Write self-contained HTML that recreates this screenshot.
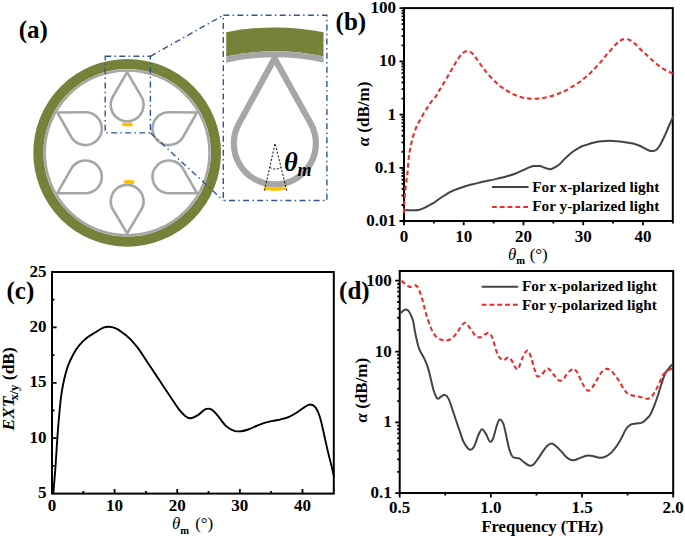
<!DOCTYPE html>
<html><head><meta charset="utf-8"><style>
html,body{margin:0;padding:0;background:#fff;width:685px;height:538px;overflow:hidden}
svg{display:block}
</style></head><body>
<svg width="685" height="538" viewBox="0 0 685 538">
<rect width="685" height="538" fill="#fff"/>
<circle cx="127.15" cy="152.8" r="88.8" fill="none" stroke="#76823a" stroke-width="10.1"/>
<circle cx="127.15" cy="152.8" r="82.4" fill="none" stroke="#a6a6a6" stroke-width="2.5"/>
<path d="M127.15,72.2 L141.34,96.67 A16.4,16.4 0 1 1 112.96,96.67 Z" fill="none" stroke="#a6a6a6" stroke-width="2.6" stroke-linejoin="miter" stroke-miterlimit="10"/>
<path d="M196.95,112.5 L183.15,136.8 A16.4,16.4 0 1 1 169.01,112.3 Z" fill="none" stroke="#a6a6a6" stroke-width="2.6" stroke-linejoin="miter" stroke-miterlimit="10"/>
<path d="M196.95,193.1 L169.01,193.3 A16.4,16.4 0 1 1 183.15,168.8 Z" fill="none" stroke="#a6a6a6" stroke-width="2.6" stroke-linejoin="miter" stroke-miterlimit="10"/>
<path d="M127.15,233.4 L113.05,209.68 A16.4,16.4 0 1 1 141.25,209.68 Z" fill="none" stroke="#a6a6a6" stroke-width="2.6" stroke-linejoin="miter" stroke-miterlimit="10"/>
<path d="M57.35,193.1 L71.15,168.8 A16.4,16.4 0 1 1 85.29,193.3 Z" fill="none" stroke="#a6a6a6" stroke-width="2.6" stroke-linejoin="miter" stroke-miterlimit="10"/>
<path d="M57.35,112.5 L85.29,112.3 A16.4,16.4 0 1 1 71.15,136.8 Z" fill="none" stroke="#a6a6a6" stroke-width="2.6" stroke-linejoin="miter" stroke-miterlimit="10"/>
<path d="M122.2,123.9 Q127.3,125.6 132.4,123.9" fill="none" stroke="#ffc000" stroke-width="3.4"/>
<path d="M124.1,182.6 Q129.1,180.9 134.2,182.6" fill="none" stroke="#ffc000" stroke-width="3.7"/>
<path d="M226.2,20 L323.5,20 L323.5,60 L226.2,60 Z" fill="none"/>
<clipPath id="bandclip"><rect x="226.2" y="0" width="97.3" height="120"/></clipPath>
<g clip-path="url(#bandclip)">
<circle cx="274.85" cy="280" r="240.7" fill="none" stroke="#76823a" stroke-width="23.8"/>
<circle cx="274.85" cy="280" r="225.75" fill="none" stroke="#a6a6a6" stroke-width="6.1"/>
</g>
<path d="M274.6,58.5 L310.72,123.45 A41.05,41.05 0 1 1 238.86,123.66 Z" fill="none" stroke="#a6a6a6" stroke-width="6.2" stroke-linejoin="miter" stroke-miterlimit="10"/>
<path d="M263.84,187.91 A45.85,45.85 0 0 0 285.86,187.91" fill="none" stroke="#ffc000" stroke-width="3.5"/>
<path d="M264.5,190.7 L275.1,143.4 L286.8,190.7" fill="none" stroke="#000" stroke-width="0.9" stroke-dasharray="2.2 1.6"/>
<path d="M269.6,167.2 Q275.1,171 281.4,167.2" fill="none" stroke="#000" stroke-width="0.9" stroke-dasharray="2.2 1.6"/>
<text x="284" y="170.6" font-family='"Liberation Serif", serif' font-size="26.5" font-weight="bold" font-style="italic">&#952;</text>
<text x="297.6" y="175.6" font-family='"Liberation Serif", serif' font-size="18" font-weight="bold" font-style="italic">m</text>
<rect x="105.2" y="56.3" width="45.2" height="76.6" stroke="#2f5597" stroke-width="1.4" fill="none" stroke-dasharray="6 3.3 1.5 3.3"/>
<rect x="223.3" y="15.3" width="103.6" height="185.2" stroke="#2f5597" stroke-width="1.4" fill="none" stroke-dasharray="6 3.3 1.5 3.3"/>
<path d="M150.4,56.3 L223.3,15.3" stroke="#2f5597" stroke-width="1.4" fill="none" stroke-dasharray="6 3.3 1.5 3.3"/>
<path d="M150.4,132.9 L223.3,200.5" stroke="#2f5597" stroke-width="1.4" fill="none" stroke-dasharray="6 3.3 1.5 3.3"/>
<text x="18.8" y="38.1" font-family='"Liberation Serif", serif' font-size="25" font-weight="bold">(a)</text>
<text x="335.6" y="29.9" font-family='"Liberation Serif", serif' font-size="25" font-weight="bold">(b)</text>
<text x="6.5" y="298.6" font-family='"Liberation Serif", serif' font-size="25" font-weight="bold">(c)</text>
<text x="339.1" y="298.8" font-family='"Liberation Serif", serif' font-size="25" font-weight="bold">(d)</text>
<rect x="404" y="8.1" width="268.8" height="212.9" fill="none" stroke="#000" stroke-width="2"/>
<clipPath id="clipb"><rect x="402.5" y="8.1" width="271.8" height="212.9"/></clipPath>
<g clip-path="url(#clipb)">
<path d="M404.7,210.3 C407,210.23 415.32,210.27 418.5,209.9 C421.68,209.53 421.95,208.9 423.8,208.1 C425.65,207.3 427.85,206.03 429.6,205.1 C431.35,204.17 432.65,203.57 434.3,202.5 C435.95,201.43 437.65,199.97 439.5,198.7 C441.35,197.43 443.65,196 445.4,194.9 C447.15,193.8 448.4,192.93 450,192.1 C451.6,191.27 453.08,190.67 455,189.9 C456.92,189.13 459.25,188.27 461.5,187.5 C463.75,186.73 466.17,185.95 468.5,185.3 C470.83,184.65 473.17,184.18 475.5,183.6 C477.83,183.02 480.28,182.3 482.5,181.8 C484.72,181.3 486.3,181.13 488.8,180.6 C491.3,180.07 494.58,179.28 497.5,178.6 C500.42,177.92 503.38,177.32 506.3,176.5 C509.22,175.68 512.08,174.8 515,173.7 C517.92,172.6 521.47,170.95 523.8,169.9 C526.13,168.85 527.38,168.03 529,167.4 C530.62,166.77 531.73,166.32 533.5,166.1 C535.27,165.88 537.7,165.82 539.6,166.1 C541.5,166.38 543.15,167.28 544.9,167.8 C546.65,168.32 548.35,169.33 550.1,169.2 C551.85,169.07 553.78,167.88 555.4,167 C557.02,166.12 558.2,165.3 559.8,163.9 C561.4,162.5 563.1,160.42 565,158.6 C566.9,156.78 569.3,154.53 571.2,153 C573.1,151.47 574.52,150.57 576.4,149.4 C578.28,148.23 580.9,146.73 582.5,146 C584.1,145.27 584.42,145.5 586,145 C587.58,144.5 589.83,143.57 592,143 C594.17,142.43 596.67,141.95 599,141.6 C601.33,141.25 603.67,141.02 606,140.9 C608.33,140.78 610.67,140.8 613,140.9 C615.33,141 617.67,141.23 620,141.5 C622.33,141.77 624.67,142.12 627,142.5 C629.33,142.88 631.8,143.22 634,143.8 C636.2,144.38 638.37,145.22 640.2,146 C642.03,146.78 643.25,147.67 645,148.5 C646.75,149.33 648.88,150.73 650.7,151 C652.52,151.27 654.38,151.02 655.9,150.1 C657.42,149.18 658.28,148 659.8,145.5 C661.32,143 663.48,138.35 665,135.1 C666.52,131.85 667.7,128.7 668.9,126 C670.1,123.3 671.35,120.73 672.2,118.9 C673.05,117.07 673.7,115.65 674,115" fill="none" stroke="#434343" stroke-width="2"/>
<path d="M403.8,213 C403.83,212.13 403.87,210.27 404,207.8 C404.13,205.33 404.35,201.4 404.6,198.2 C404.85,195 405.15,191.82 405.5,188.6 C405.85,185.38 406.35,181.72 406.7,178.9 C407.05,176.08 407.25,175.32 407.6,171.7 C407.95,168.08 408.35,161.12 408.8,157.2 C409.25,153.28 409.75,151.02 410.3,148.2 C410.85,145.38 411.5,142.72 412.1,140.3 C412.7,137.88 413.1,136.12 413.9,133.7 C414.7,131.28 415.8,128.22 416.9,125.8 C418,123.38 419.28,121.42 420.5,119.2 C421.72,116.98 422.98,114.52 424.2,112.5 C425.42,110.48 426.7,108.8 427.8,107.1 C428.9,105.4 429.55,103.95 430.8,102.3 C432.05,100.65 434.05,98.93 435.3,97.2 C436.55,95.47 437.15,93.82 438.3,91.9 C439.45,89.98 440.88,87.85 442.2,85.7 C443.52,83.55 444.88,81.23 446.2,79 C447.52,76.77 448.8,74.53 450.1,72.3 C451.4,70.07 452.7,67.82 454,65.6 C455.3,63.38 456.52,61.03 457.9,59 C459.28,56.97 460.92,54.7 462.3,53.4 C463.68,52.1 464.98,51.52 466.2,51.2 C467.42,50.88 468.38,50.95 469.6,51.5 C470.82,52.05 472.38,53.35 473.5,54.5 C474.62,55.65 475.18,56.82 476.3,58.4 C477.42,59.98 478.9,62.2 480.2,64 C481.5,65.8 482.72,67.43 484.1,69.2 C485.48,70.97 486.63,72.52 488.5,74.6 C490.37,76.68 493.2,79.65 495.3,81.7 C497.4,83.75 499.07,85.35 501.1,86.9 C503.13,88.45 505.27,89.68 507.5,91 C509.73,92.32 512.07,93.73 514.5,94.8 C516.93,95.87 519.57,96.77 522.1,97.4 C524.63,98.03 527.17,98.4 529.7,98.6 C532.23,98.8 534.87,98.73 537.3,98.6 C539.73,98.47 541.87,98.25 544.3,97.8 C546.73,97.35 549.47,96.63 551.9,95.9 C554.33,95.17 556.63,94.27 558.9,93.4 C561.17,92.53 563.28,91.82 565.5,90.7 C567.72,89.58 569.97,88.07 572.2,86.7 C574.43,85.33 576.78,84 578.9,82.5 C581.02,81 582.98,79.3 584.9,77.7 C586.82,76.1 588.58,74.62 590.4,72.9 C592.22,71.18 594,69.32 595.8,67.4 C597.6,65.48 599.5,63.4 601.2,61.4 C602.9,59.4 604.38,57.32 606,55.4 C607.62,53.48 609.28,51.72 610.9,49.9 C612.52,48.08 614.27,45.95 615.7,44.5 C617.13,43.05 618.37,42.02 619.5,41.2 C620.63,40.38 621.52,39.95 622.5,39.6 C623.48,39.25 624.13,39 625.4,39.1 C626.67,39.2 628.38,39.32 630.1,40.2 C631.82,41.08 633.85,42.77 635.7,44.4 C637.55,46.03 639.35,48.22 641.2,50 C643.05,51.78 644.85,53.32 646.8,55.1 C648.75,56.88 650.88,58.92 652.9,60.7 C654.92,62.48 656.82,64.25 658.9,65.8 C660.98,67.35 663.32,68.82 665.4,70 C667.48,71.18 669.97,72.23 671.4,72.9 C672.83,73.57 673.57,73.82 674,74" fill="none" stroke="#ee2b2b" stroke-width="2.1" stroke-dasharray="4.6 3"/>
</g>
<path d="M404,221 v4.3 M433.87,221 v2.5 M463.73,221 v4.3 M493.6,221 v2.5 M523.47,221 v4.3 M553.33,221 v2.5 M583.2,221 v4.3 M613.07,221 v2.5 M642.93,221 v4.3 M672.8,221 v2.5 M404,221 h-4.5 M404,204.98 h-2.5 M404,195.61 h-2.5 M404,188.96 h-2.5 M404,183.8 h-2.5 M404,179.58 h-2.5 M404,176.02 h-2.5 M404,172.93 h-2.5 M404,170.21 h-2.5 M404,167.78 h-4.5 M404,151.75 h-2.5 M404,142.38 h-2.5 M404,135.73 h-2.5 M404,130.57 h-2.5 M404,126.36 h-2.5 M404,122.79 h-2.5 M404,119.71 h-2.5 M404,116.99 h-2.5 M404,114.55 h-4.5 M404,98.53 h-2.5 M404,89.16 h-2.5 M404,82.51 h-2.5 M404,77.35 h-2.5 M404,73.13 h-2.5 M404,69.57 h-2.5 M404,66.48 h-2.5 M404,63.76 h-2.5 M404,61.32 h-4.5 M404,45.3 h-2.5 M404,35.93 h-2.5 M404,29.28 h-2.5 M404,24.12 h-2.5 M404,19.91 h-2.5 M404,16.34 h-2.5 M404,13.26 h-2.5 M404,10.54 h-2.5 M404,8.1 h-4.5" stroke="#000" stroke-width="1.8" fill="none"/>
<text x="404" y="242" font-family='"Liberation Serif", serif' font-size="17" font-weight="bold" font-style="normal" text-anchor="middle" >0</text>
<text x="463.73" y="242" font-family='"Liberation Serif", serif' font-size="17" font-weight="bold" font-style="normal" text-anchor="middle" >10</text>
<text x="523.47" y="242" font-family='"Liberation Serif", serif' font-size="17" font-weight="bold" font-style="normal" text-anchor="middle" >20</text>
<text x="583.2" y="242" font-family='"Liberation Serif", serif' font-size="17" font-weight="bold" font-style="normal" text-anchor="middle" >30</text>
<text x="642.93" y="242" font-family='"Liberation Serif", serif' font-size="17" font-weight="bold" font-style="normal" text-anchor="middle" >40</text>
<text x="396" y="226" font-family='"Liberation Serif", serif' font-size="17" font-weight="bold" font-style="normal" text-anchor="end" >0.01</text>
<text x="396" y="172.78" font-family='"Liberation Serif", serif' font-size="17" font-weight="bold" font-style="normal" text-anchor="end" >0.1</text>
<text x="396" y="119.55" font-family='"Liberation Serif", serif' font-size="17" font-weight="bold" font-style="normal" text-anchor="end" >1</text>
<text x="396" y="66.32" font-family='"Liberation Serif", serif' font-size="17" font-weight="bold" font-style="normal" text-anchor="end" >10</text>
<text x="396" y="13.1" font-family='"Liberation Serif", serif' font-size="17" font-weight="bold" font-style="normal" text-anchor="end" >100</text>
<text x="364.9" y="114" font-family='"Liberation Serif", serif' font-size="17" font-weight="bold" font-style="normal" text-anchor="middle" transform="rotate(-90 364.9 114.0)" dy="4.5"><tspan font-style="italic">&#945;</tspan> (dB/m)</text>
<text x="508" y="259.6" font-family='"Liberation Serif", serif' font-size="17"><tspan font-style="italic">&#952;</tspan><tspan font-size="10.5" font-weight="bold" dy="4.5">m</tspan><tspan dy="-4.5" dx="0.3"> (&#176;)</tspan></text>
<path d="M492,187.1 H528.5" stroke="#434343" stroke-width="2"/>
<path d="M492,207 H528.5" stroke="#ee2b2b" stroke-width="2.1" stroke-dasharray="4.8 3"/>
<text x="532.2" y="192" font-family='"Liberation Serif", serif' font-size="15.3" font-weight="bold" font-style="normal" text-anchor="start" >For x-plarized light</text>
<text x="532.2" y="210.5" font-family='"Liberation Serif", serif' font-size="15.3" font-weight="bold" font-style="normal" text-anchor="start" >For y-plarized light</text>
<rect x="52" y="272" width="281.8" height="221.6" fill="none" stroke="#000" stroke-width="2"/>
<clipPath id="clipc"><rect x="50.5" y="272" width="284.8" height="221.6"/></clipPath>
<g clip-path="url(#clipc)"><path d="M53.3,493.6 C53.68,488.85 54.92,474.5 55.6,465.1 C56.28,455.7 56.72,446.47 57.4,437.2 C58.08,427.93 59.02,416.75 59.7,409.5 C60.38,402.25 60.73,398.82 61.5,393.7 C62.27,388.58 63.22,383.45 64.3,378.8 C65.38,374.15 66.45,369.98 68,365.8 C69.55,361.62 71.73,357.12 73.6,353.7 C75.47,350.28 77.03,347.93 79.2,345.3 C81.37,342.67 83.82,340.12 86.6,337.9 C89.38,335.68 93.1,333.7 95.9,332 C98.7,330.3 101.22,328.58 103.4,327.7 C105.58,326.82 106.83,326.55 109,326.7 C111.17,326.85 113.62,327.2 116.4,328.6 C119.18,330 123.43,333.38 125.7,335.1 C127.97,336.82 127.92,336.68 130,338.9 C132.08,341.12 135.47,344.77 138.2,348.4 C140.93,352.03 143.68,356.62 146.4,360.7 C149.12,364.78 151.78,368.82 154.5,372.9 C157.22,376.98 159.97,381.1 162.7,385.2 C165.43,389.3 168.17,393.42 170.9,397.5 C173.63,401.58 176.72,406.63 179.1,409.7 C181.48,412.77 183.33,414.47 185.2,415.9 C187.07,417.33 188.25,418.38 190.3,418.3 C192.35,418.22 194.95,416.93 197.5,415.4 C200.05,413.87 203.22,410.05 205.6,409.1 C207.98,408.15 209.75,408.57 211.8,409.7 C213.85,410.83 215.52,413.17 217.9,415.9 C220.28,418.63 223.37,423.62 226.1,426.1 C228.83,428.58 231.75,429.95 234.3,430.8 C236.85,431.65 239.08,431.42 241.4,431.2 C243.72,430.98 245.7,430.37 248.2,429.5 C250.7,428.63 253.68,427.1 256.4,426 C259.12,424.9 261.78,423.75 264.5,422.9 C267.22,422.05 269.97,421.5 272.7,420.9 C275.43,420.3 278.17,419.98 280.9,419.3 C283.63,418.62 286.37,417.97 289.1,416.8 C291.83,415.63 294.58,414 297.3,412.3 C300.02,410.6 303.18,407.9 305.4,406.6 C307.62,405.3 308.88,404.33 310.6,404.5 C312.32,404.67 314.17,405.55 315.7,407.6 C317.23,409.65 318.45,412.53 319.8,416.8 C321.15,421.07 322.45,427.4 323.8,433.2 C325.15,439 326.53,445.82 327.9,451.6 C329.27,457.38 331.02,463.83 332,467.9 C332.98,471.97 333.5,474.65 333.8,476" fill="none" stroke="#000" stroke-width="1.9"/></g>
<path d="M83.31,493.6 v-2.5 M114.62,493.6 v-4.6 M145.93,493.6 v-2.5 M177.24,493.6 v-4.6 M208.56,493.6 v-2.5 M239.87,493.6 v-4.6 M271.18,493.6 v-2.5 M302.49,493.6 v-4.6 M52,465.9 h2.5 M52,438.2 h4.6 M52,410.5 h2.5 M52,382.8 h4.6 M52,355.1 h2.5 M52,327.4 h4.6 M52,299.7 h2.5" stroke="#000" stroke-width="1.8" fill="none"/>
<text x="52" y="511.3" font-family='"Liberation Serif", serif' font-size="17" font-weight="bold" font-style="normal" text-anchor="middle" >0</text>
<text x="114.62" y="511.3" font-family='"Liberation Serif", serif' font-size="17" font-weight="bold" font-style="normal" text-anchor="middle" >10</text>
<text x="177.24" y="511.3" font-family='"Liberation Serif", serif' font-size="17" font-weight="bold" font-style="normal" text-anchor="middle" >20</text>
<text x="239.87" y="511.3" font-family='"Liberation Serif", serif' font-size="17" font-weight="bold" font-style="normal" text-anchor="middle" >30</text>
<text x="302.49" y="511.3" font-family='"Liberation Serif", serif' font-size="17" font-weight="bold" font-style="normal" text-anchor="middle" >40</text>
<text x="46.5" y="498.2" font-family='"Liberation Serif", serif' font-size="17" font-weight="bold" font-style="normal" text-anchor="end" >5</text>
<text x="46.5" y="442.8" font-family='"Liberation Serif", serif' font-size="17" font-weight="bold" font-style="normal" text-anchor="end" >10</text>
<text x="46.5" y="387.4" font-family='"Liberation Serif", serif' font-size="17" font-weight="bold" font-style="normal" text-anchor="end" >15</text>
<text x="46.5" y="332" font-family='"Liberation Serif", serif' font-size="17" font-weight="bold" font-style="normal" text-anchor="end" >20</text>
<text x="46.5" y="276.6" font-family='"Liberation Serif", serif' font-size="17" font-weight="bold" font-style="normal" text-anchor="end" >25</text>
<text transform="rotate(-90 14 430.6)" x="14" y="430.6" font-family='"Liberation Serif", serif' font-size="17.5" font-weight="bold" font-style="italic">EXT</text>
<text transform="rotate(-90 17.6 400.6)" x="17.6" y="400.6" font-family='"Liberation Serif", serif' font-size="12.5" font-weight="bold" font-style="normal">x/y</text>
<text transform="rotate(-90 14 380.2)" x="14" y="380.2" font-family='"Liberation Serif", serif' font-size="17.5" font-weight="bold" font-style="normal">(dB)</text>
<text x="172" y="529.4" font-family='"Liberation Serif", serif' font-size="17"><tspan font-style="italic">&#952;</tspan><tspan font-size="10.5" font-weight="bold" dy="4.5">m</tspan><tspan dy="-4.5" dx="1.8"> (&#176;)</tspan></text>
<rect x="399.7" y="271" width="273.5" height="222" fill="none" stroke="#000" stroke-width="2"/>
<clipPath id="clipd"><rect x="398.2" y="271" width="276.5" height="222"/></clipPath>
<g clip-path="url(#clipd)">
<path d="M400.2,313.4 C400.73,312.93 402.4,311.25 403.4,310.6 C404.4,309.95 405.27,309.35 406.2,309.5 C407.13,309.65 408.15,310.38 409,311.5 C409.85,312.62 410.6,314.57 411.3,316.2 C412,317.83 412.63,318.95 413.2,321.3 C413.77,323.65 414.03,326.85 414.7,330.3 C415.37,333.75 416.37,338.68 417.2,342 C418.03,345.32 418.52,347.43 419.7,350.2 C420.88,352.97 422.92,355.65 424.3,358.6 C425.68,361.55 426.92,364.48 428,367.9 C429.08,371.32 429.87,375.38 430.8,379.1 C431.73,382.82 432.52,386.95 433.6,390.2 C434.68,393.45 436.07,397.52 437.3,398.6 C438.53,399.68 439.75,397.32 441,396.7 C442.25,396.08 443.55,394.58 444.8,394.9 C446.05,395.22 447.27,396.28 448.5,398.6 C449.73,400.92 450.97,405.23 452.2,408.8 C453.43,412.37 454.67,416.35 455.9,420 C457.13,423.65 458.28,426.98 459.6,430.7 C460.92,434.42 462.13,439.15 463.8,442.3 C465.47,445.45 467.9,448.87 469.6,449.6 C471.3,450.33 472.53,449.13 474,446.7 C475.47,444.27 477.07,437.92 478.4,435 C479.73,432.08 480.78,429.43 482,429.2 C483.22,428.97 484.37,431.53 485.7,433.6 C487.03,435.67 488.78,440.75 490,441.6 C491.22,442.45 491.9,441.25 493,438.7 C494.1,436.15 495.52,429.47 496.6,426.3 C497.68,423.13 498.4,420.18 499.5,419.7 C500.6,419.22 502.1,420.85 503.2,423.4 C504.3,425.95 505.13,430.87 506.1,435 C507.07,439.13 507.9,444.55 509,448.2 C510.1,451.85 511,455.2 512.7,456.9 C514.4,458.6 517.38,457.55 519.2,458.4 C521.02,459.25 521.88,460.78 523.6,462 C525.32,463.22 527.8,465.33 529.5,465.7 C531.2,466.07 532.35,465.42 533.8,464.2 C535.25,462.98 536.73,460.47 538.2,458.4 C539.67,456.33 541.13,453.87 542.6,451.8 C544.07,449.73 545.53,447.38 547,446 C548.47,444.62 549.93,443.5 551.4,443.5 C552.87,443.5 554.08,444.62 555.8,446 C557.52,447.38 559.75,449.78 561.7,451.8 C563.65,453.82 565.55,456.68 567.5,458.1 C569.45,459.52 571.45,460.25 573.4,460.3 C575.35,460.35 577.02,459.15 579.2,458.4 C581.38,457.65 584.32,456.22 586.5,455.8 C588.68,455.38 590.12,455.58 592.3,455.9 C594.48,456.22 597.4,457.58 599.6,457.7 C601.8,457.82 603.55,457.45 605.5,456.6 C607.45,455.75 609.35,454.48 611.3,452.6 C613.25,450.72 615.5,447.73 617.2,445.3 C618.9,442.87 620.05,440.68 621.5,438 C622.95,435.32 624.43,431.4 625.9,429.2 C627.37,427 628.6,425.73 630.3,424.8 C632,423.87 634.15,423.97 636.1,423.6 C638.05,423.23 640.28,423.37 642,422.6 C643.72,421.83 645.03,420.32 646.4,419 C647.77,417.68 648.93,416.82 650.2,414.7 C651.47,412.58 652.75,409.42 654,406.3 C655.25,403.18 656.47,399.72 657.7,396 C658.93,392.28 660.17,387.72 661.4,384 C662.63,380.28 663.7,376.5 665.1,373.7 C666.5,370.9 668.55,368.75 669.8,367.2 C671.05,365.65 672.13,364.87 672.6,364.4" fill="none" stroke="#434343" stroke-width="2"/>
<path d="M401.6,280.8 C402.13,281.27 403.48,282.58 404.8,283.6 C406.12,284.62 408.18,286.5 409.5,286.9 C410.82,287.3 411.62,286.23 412.7,286 C413.78,285.77 415.07,285.12 416,285.5 C416.93,285.88 417.52,286.83 418.3,288.3 C419.08,289.77 419.92,292.05 420.7,294.3 C421.48,296.55 422.32,299.32 423,301.8 C423.68,304.28 424.1,306.57 424.8,309.2 C425.5,311.83 426.08,314.23 427.2,317.6 C428.32,320.97 429.95,326.18 431.5,329.4 C433.05,332.62 434.55,335.08 436.5,336.9 C438.45,338.72 440.97,339.87 443.2,340.3 C445.43,340.73 447.82,340.48 449.9,339.5 C451.98,338.52 453.88,336.5 455.7,334.4 C457.52,332.3 459.27,328.85 460.8,326.9 C462.33,324.95 463.37,322.52 464.9,322.7 C466.43,322.88 468.18,325.77 470,328 C471.82,330.23 473.98,334.57 475.8,336.1 C477.62,337.63 479.43,337.45 480.9,337.2 C482.37,336.95 483.25,335.28 484.6,334.6 C485.95,333.92 487.78,332.73 489,333.1 C490.22,333.47 491.05,335.08 491.9,336.8 C492.75,338.52 493.37,341.08 494.1,343.4 C494.83,345.72 495.45,348.4 496.3,350.7 C497.15,353 497.98,355.63 499.2,357.2 C500.42,358.77 502.02,360.1 503.6,360.1 C505.18,360.1 507.25,356.95 508.7,357.2 C510.15,357.45 511.2,359.9 512.3,361.6 C513.4,363.3 514.32,366.18 515.3,367.4 C516.28,368.62 517.12,370.23 518.2,368.9 C519.28,367.57 520.58,362.2 521.8,359.4 C523.02,356.6 524.4,353.52 525.5,352.1 C526.6,350.68 527.43,349.92 528.4,350.9 C529.37,351.88 530.33,355.12 531.3,358 C532.27,360.88 533.22,365.17 534.2,368.2 C535.18,371.23 535.98,375.12 537.2,376.2 C538.42,377.28 539.93,375.92 541.5,374.7 C543.07,373.48 545.25,369.75 546.6,368.9 C547.95,368.05 548.5,368.75 549.6,369.6 C550.7,370.45 551.62,372.18 553.2,374 C554.78,375.82 557.4,379.65 559.1,380.5 C560.8,381.35 562.18,380.07 563.4,379.1 C564.62,378.13 565.27,376.1 566.4,374.7 C567.53,373.3 568.95,371.67 570.2,370.7 C571.45,369.73 572.68,368.55 573.9,368.9 C575.12,369.25 576.28,370.8 577.5,372.8 C578.72,374.8 579.98,378.47 581.2,380.9 C582.42,383.33 583.58,385.75 584.8,387.4 C586.02,389.05 587.17,390.92 588.5,390.8 C589.83,390.68 591.35,388.6 592.8,386.7 C594.25,384.8 595.73,381.83 597.2,379.4 C598.67,376.97 600.02,373.85 601.6,372.1 C603.18,370.35 605.12,369.13 606.7,368.9 C608.28,368.67 609.63,369.55 611.1,370.7 C612.57,371.85 614.03,373.87 615.5,375.8 C616.97,377.73 618.45,380 619.9,382.3 C621.35,384.6 622.75,387.6 624.2,389.6 C625.65,391.6 626.88,393.25 628.6,394.3 C630.32,395.35 632.55,395.47 634.5,395.9 C636.45,396.33 638.37,396.43 640.3,396.9 C642.23,397.37 644.4,398.57 646.1,398.7 C647.8,398.83 649.03,398.85 650.5,397.7 C651.97,396.55 653.43,394.23 654.9,391.8 C656.37,389.37 657.9,385.95 659.3,383.1 C660.7,380.25 661.72,376.88 663.3,374.7 C664.88,372.52 667.25,371.1 668.8,370 C670.35,368.9 671.97,368.42 672.6,368.1" fill="none" stroke="#ee2b2b" stroke-width="2.1" stroke-dasharray="4.6 3"/>
</g>
<path d="M399.7,493 v4.6 M445.28,493 v2.5 M490.87,493 v4.6 M536.45,493 v2.5 M582.03,493 v4.6 M627.62,493 v2.5 M673.2,493 v4.6 M399.7,493.2 h-4.5 M399.7,471.88 h-2.5 M399.7,459.4 h-2.5 M399.7,450.55 h-2.5 M399.7,443.69 h-2.5 M399.7,438.08 h-2.5 M399.7,433.34 h-2.5 M399.7,429.23 h-2.5 M399.7,425.61 h-2.5 M399.7,422.37 h-4.5 M399.7,401.04 h-2.5 M399.7,388.57 h-2.5 M399.7,379.72 h-2.5 M399.7,372.86 h-2.5 M399.7,367.25 h-2.5 M399.7,362.51 h-2.5 M399.7,358.4 h-2.5 M399.7,354.77 h-2.5 M399.7,351.53 h-4.5 M399.7,330.21 h-2.5 M399.7,317.74 h-2.5 M399.7,308.89 h-2.5 M399.7,302.02 h-2.5 M399.7,296.41 h-2.5 M399.7,291.67 h-2.5 M399.7,287.56 h-2.5 M399.7,283.94 h-2.5 M399.7,280.7 h-4.5" stroke="#000" stroke-width="1.8" fill="none"/>
<text x="399.7" y="513.3" font-family='"Liberation Serif", serif' font-size="17" font-weight="bold" font-style="normal" text-anchor="middle" >0.5</text>
<text x="490.87" y="513.3" font-family='"Liberation Serif", serif' font-size="17" font-weight="bold" font-style="normal" text-anchor="middle" >1.0</text>
<text x="582.03" y="513.3" font-family='"Liberation Serif", serif' font-size="17" font-weight="bold" font-style="normal" text-anchor="middle" >1.5</text>
<text x="673.2" y="513.3" font-family='"Liberation Serif", serif' font-size="17" font-weight="bold" font-style="normal" text-anchor="middle" >2.0</text>
<text x="391.8" y="498.3" font-family='"Liberation Serif", serif' font-size="17" font-weight="bold" font-style="normal" text-anchor="end" >0.1</text>
<text x="391.8" y="427.47" font-family='"Liberation Serif", serif' font-size="17" font-weight="bold" font-style="normal" text-anchor="end" >1</text>
<text x="391.8" y="356.63" font-family='"Liberation Serif", serif' font-size="17" font-weight="bold" font-style="normal" text-anchor="end" >10</text>
<text x="391.8" y="285.8" font-family='"Liberation Serif", serif' font-size="17" font-weight="bold" font-style="normal" text-anchor="end" >100</text>
<text x="363" y="390.2" font-family='"Liberation Serif", serif' font-size="17" font-weight="bold" font-style="normal" text-anchor="middle" transform="rotate(-90 363 390.2)" dy="4"><tspan font-style="italic">&#945;</tspan> (dB/m)</text>
<text x="542.3" y="532.4" font-family='"Liberation Serif", serif' font-size="16.6" font-weight="bold" font-style="normal" text-anchor="middle" >Frequency (THz)</text>
<path d="M481.7,286.7 H518.2" stroke="#434343" stroke-width="2"/>
<path d="M481.7,304.8 H518.2" stroke="#ee2b2b" stroke-width="2.1" stroke-dasharray="4.8 3"/>
<text x="522" y="291.3" font-family='"Liberation Serif", serif' font-size="15.3" font-weight="bold" font-style="normal" text-anchor="start" >For x-polarized light</text>
<text x="522" y="309.6" font-family='"Liberation Serif", serif' font-size="15.3" font-weight="bold" font-style="normal" text-anchor="start" >For y-polarized light</text>
</svg>
</body></html>
